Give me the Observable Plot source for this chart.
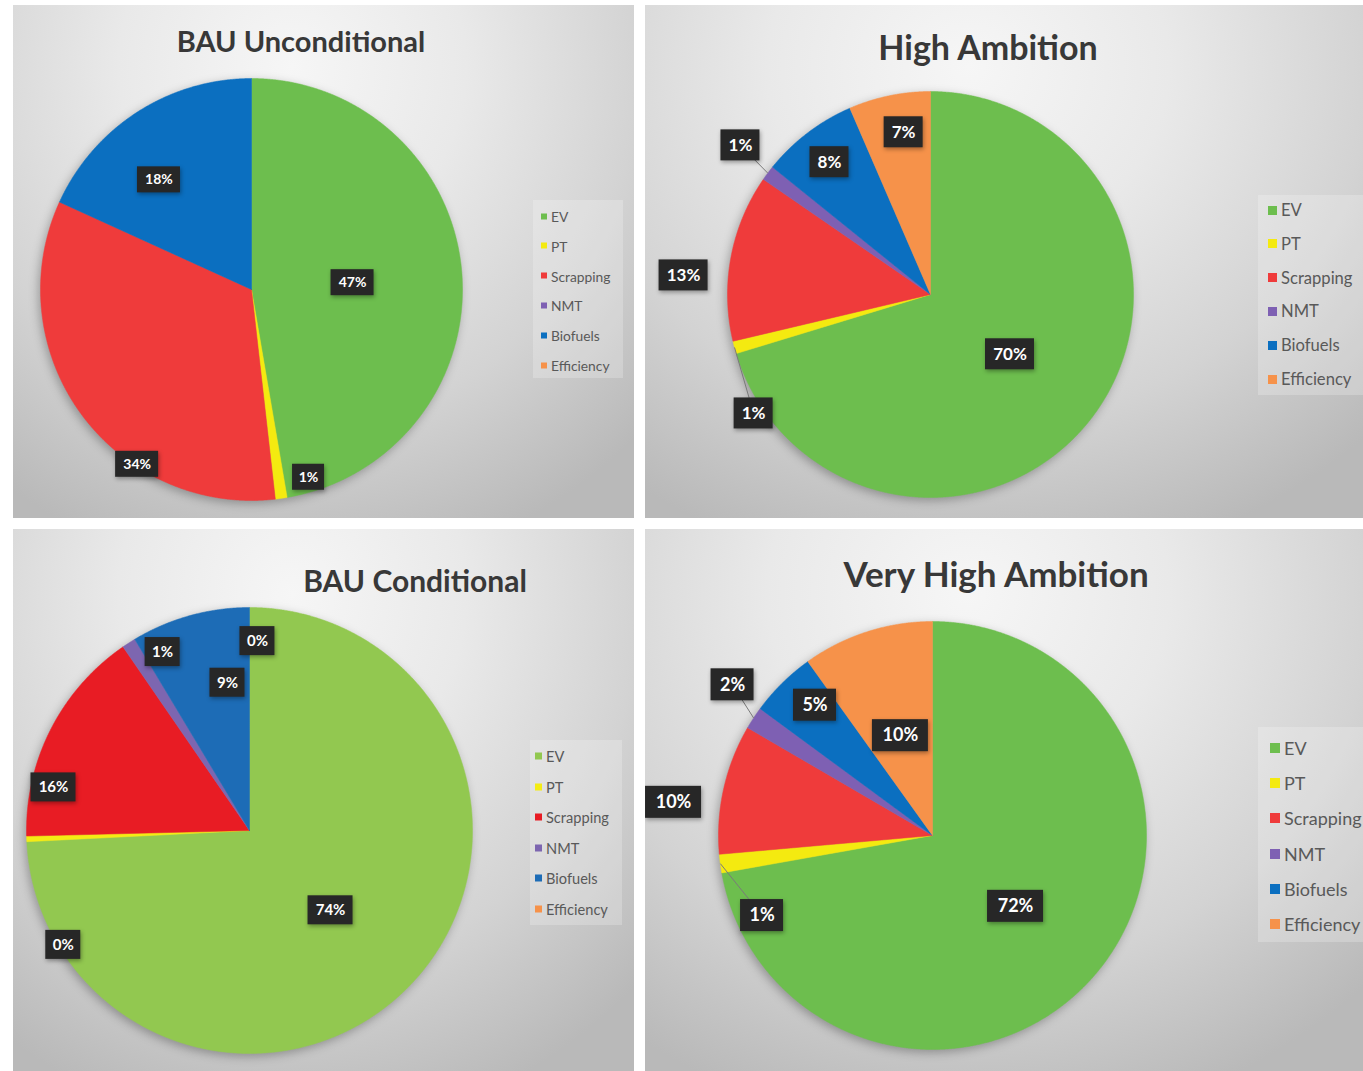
<!DOCTYPE html>
<html><head><meta charset="utf-8">
<script src="https://cdn.jsdelivr.net/npm/d3@7"></script>
<script src="https://cdn.jsdelivr.net/npm/@observablehq/plot@0.6"></script>
<style>
body{margin:0;background:#fff;}
#root{position:relative;width:1363px;height:1071px;overflow:hidden;font-family:Lato,"Open Sans",sans-serif;}
.panel{position:absolute;overflow:hidden;}
.bg{position:absolute;left:0;top:0;right:0;bottom:0;
 background:radial-gradient(ellipse 80% 100% at 45% 12%, #f6f6f6 0%, #e9e9e9 35%, #d3d3d3 70%, #b9b9b9 100%);}
.panel svg{position:absolute;left:0;top:0;}
.title{position:absolute;font-weight:700;color:#383838;white-space:nowrap;transform:translate(-50%,-50%);}
.legend{position:absolute;background:rgba(255,255,255,0.22);}
.item{position:absolute;display:flex;align-items:center;color:#595959;white-space:nowrap;transform:translateY(-50%);}
.sw{display:inline-block;margin-right:4px;}
</style>
</head><body><div id="root"></div>
<script>
// ---- data ----
const categories = ["EV", "PT", "Scrapping", "NMT", "Biofuels", "Efficiency"];
const bauUnconditional = [47.3, 0.9, 33.6, null, 18.2, null];
const highAmbition     = [70.3, 1.0, 13.3, 1.2, 7.7, 6.5];
const bauConditional   = [74.2, 0.4, 15.8, 1.0, 8.6, 0.0];
const veryHighAmbition = [72.2, 1.4, 9.8, 1.7, 5.0, 9.9];
const chartTitles = ["BAU Unconditional", "High Ambition", "BAU Conditional", "Very High Ambition"];

// ---- styles ----
const paletteA = ["#6dbe4e", "#f4ea10", "#ef3b3b", "#7e60b3", "#0b6fc0", "#f6924a"];
const paletteC = ["#92c850", "#f4ec14", "#e81c24", "#7d66b0", "#1d6cb6", "#f6924a"];

// label placement: [angle shift in degrees from slice mid-angle, radius fraction, leader line]
const placeA = [[1.0,0.48],[-8.8,0.93],[-20.8,0.99],null,[-7.4,0.68],null];
const placeB = [[0.4,0.49],[-18.8,1.05,true],[-6.2,1.22],[1.4,1.19,true],[-0.1,0.82],[2.3,0.81]];
const placeC = [[1.0,0.51],[-29.4,0.98],[-14.6,0.90],[6.8,0.89],[7.0,0.67],[2.4,0.85]];
const placeD = [[0.5,0.51],[-17.6,0.88,true],[-5.3,1.22],[3.7,1.17,true],[2.6,0.82],[0,0.49]];

const panels = [
  {left:13, top:5, width:621, height:513, cx:251, cy:289, r:211, values:bauUnconditional, palette:paletteA, place:placeA,
   title:{x:301, y:40, size:29},
   legend:{x:533, y:200, w:90, h:178, first:216, step:29.8, size:13.8, sw:6, swx:541},
   label:{size:14, h:26, w2:32, w3:43}},
  {left:645, top:5, width:718, height:513, cx:930, cy:294, r:203, values:highAmbition, palette:paletteA, place:placeB,
   title:{x:988, y:46, size:34},
   legend:{x:1258, y:195, w:105, h:200, first:210, step:33.8, size:16.6, sw:9, swx:1268},
   label:{size:17, h:31, w2:39, w3:49}},
  {left:13, top:529, width:621, height:542, cx:249, cy:830, r:223, values:bauConditional, palette:paletteC, place:placeC,
   title:{x:415, y:580, size:30},
   legend:{x:530, y:740, w:92, h:185, first:756, step:30.5, size:14.6, sw:7, swx:535},
   label:{size:15, h:29, w2:35, w3:45}},
  {left:645, top:529, width:718, height:542, cx:932, cy:835, r:214, values:veryHighAmbition, palette:paletteA, place:placeD,
   title:{x:996, y:573, size:35},
   legend:{x:1258, y:727, w:105, h:215, first:748, step:35.2, size:18, sw:10, swx:1270},
   label:{size:18, h:32, w2:43, w3:56}}
];

const root = document.getElementById("root");
const deg = Math.PI / 180;

panels.forEach((p, pi) => {
  const div = document.createElement("div");
  div.className = "panel";
  Object.assign(div.style, {left:p.left+"px", top:p.top+"px", width:p.width+"px", height:p.height+"px"});
  const bg = document.createElement("div"); bg.className = "bg"; div.appendChild(bg);
  root.appendChild(div);

  const rows = categories.map((c, i) => ({cat:c, value:p.values[i], i}));
  const arcs = d3.pie().sort(null).value(d => d.value == null ? 0 : d.value)(rows);

  // slice polygons in unit-circle coordinates (y up)
  const pts = [];
  arcs.forEach(a => {
    if (a.endAngle - a.startAngle <= 0) return;
    const n = Math.max(2, Math.ceil((a.endAngle - a.startAngle) / (0.25 * deg)));
    pts.push({cat:a.data.cat, x:0, y:0});
    for (let k = 0; k <= n; k++) {
      const t = a.startAngle + (a.endAngle - a.startAngle) * k / n;
      pts.push({cat:a.data.cat, x:Math.sin(t), y:Math.cos(t)});
    }
    pts.push({cat:a.data.cat, x:0, y:0});
  });

  // labels
  const labels = [];
  const leaders = [];
  arcs.forEach((a, i) => {
    const pl = p.place[i];
    if (a.data.value == null || !pl) return;
    const mid = (a.startAngle + a.endAngle) / 2;
    const t = mid + pl[0] * deg;
    const txt = Math.round(a.data.value) + "%";
    const w = (txt.length > 2 ? p.label.w3 : p.label.w2) / p.r;
    const h = p.label.h / p.r;
    const lx = pl[1] * Math.sin(t), ly = pl[1] * Math.cos(t);
    labels.push({text:txt, x:lx, y:ly, x1:lx - w/2, x2:lx + w/2, y1:ly - h/2, y2:ly + h/2});
    if (pl[2]) leaders.push({x1:Math.sin(mid), y1:Math.cos(mid), x2:lx, y2:ly});
  });

  const cxL = p.cx - p.left, cyL = p.cy - p.top;
  const chart = Plot.plot({
    width: p.width, height: p.height, margin: 0,
    style: {background: "none", overflow: "visible"},
    x: {domain: [-cxL / p.r, (p.width - cxL) / p.r], axis: null},
    y: {domain: [-(p.height - cyL) / p.r, cyL / p.r], axis: null},
    color: {domain: categories, range: p.palette},
    marks: [
      Plot.line(pts, {x:"x", y:"y", z:"cat", fill:"cat", stroke:"cat", strokeWidth:0.5, curve:"linear"}),
      Plot.link(leaders, {x1:"x1", y1:"y1", x2:"x2", y2:"y2", stroke:"#7a7a7a", strokeWidth:1}),
      Plot.rect(labels, {x1:"x1", x2:"x2", y1:"y1", y2:"y2", fill:"#272727"}),
      Plot.text(labels, {x:"x", y:"y", text:"text", fill:"white", fontSize:p.label.size, fontWeight:"bold", fontFamily:"Lato, 'Open Sans', sans-serif"})
    ]
  });
  d3.select(chart).selectAll('g[aria-label="line"]').style("filter", "drop-shadow(-2px 3px 5px rgba(0,0,0,0.28))");
  d3.select(chart).selectAll('g[aria-label="rect"]').style("filter", "drop-shadow(1px 2px 2px rgba(0,0,0,0.35))");
  div.appendChild(chart);

  // title
  const tt = document.createElement("div");
  tt.className = "title";
  tt.textContent = chartTitles[pi];
  Object.assign(tt.style, {left:(p.title.x - p.left)+"px", top:(p.title.y - p.top)+"px", fontSize:p.title.size+"px"});
  div.appendChild(tt);

  // legend
  const lg = p.legend;
  const box = document.createElement("div");
  box.className = "legend";
  Object.assign(box.style, {left:(lg.x - p.left)+"px", top:(lg.y - p.top)+"px", width:lg.w+"px", height:lg.h+"px"});
  div.appendChild(box);
  categories.forEach((c, i) => {
    const it = document.createElement("div");
    it.className = "item";
    Object.assign(it.style, {left:(lg.swx - p.left)+"px", top:(lg.first + i*lg.step - p.top)+"px", fontSize:lg.size+"px"});
    const sw = document.createElement("span");
    sw.className = "sw";
    Object.assign(sw.style, {width:lg.sw+"px", height:lg.sw+"px", background:p.palette[i]});
    it.appendChild(sw);
    it.appendChild(document.createTextNode(c));
    div.appendChild(it);
  });
});
</script>
</body></html>
